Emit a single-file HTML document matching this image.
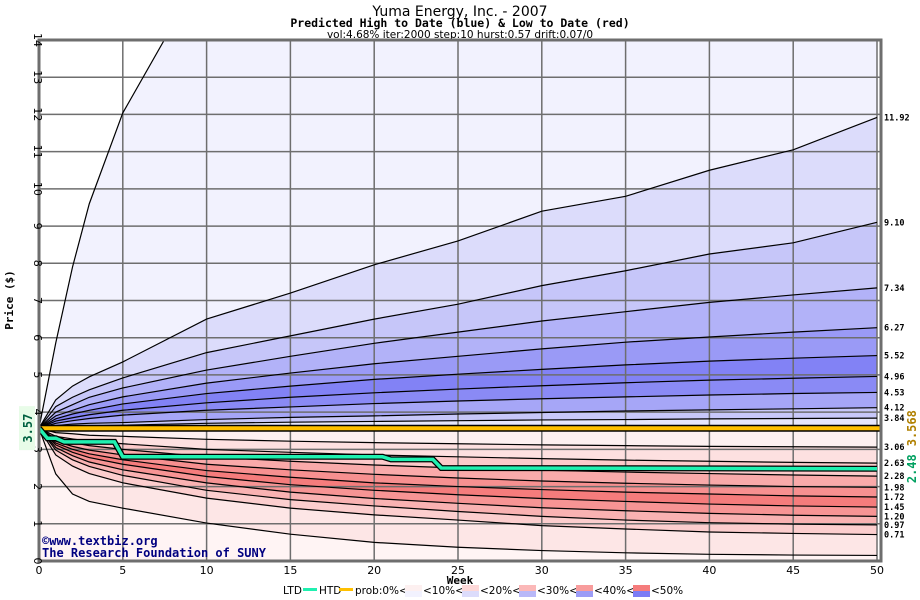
<!DOCTYPE html>
<html><head><meta charset="utf-8"><style>
html,body{margin:0;background:#fff;width:920px;height:600px;overflow:hidden}
svg{display:block;font-family:"DejaVu Sans Mono","Liberation Mono",monospace}
</style></head><body>
<svg id="chart" width="920" height="600" viewBox="0 0 920 600" xmlns="http://www.w3.org/2000/svg">
<text x="460" y="16" text-anchor="middle" font-size="14" font-family="DejaVu Sans, sans-serif">Yuma Energy, Inc. - 2007</text>
<text x="460" y="27" text-anchor="middle" font-size="11.5" font-weight="bold">Predicted High to Date (blue) &amp;  Low to Date (red)</text>
<text x="460" y="38" text-anchor="middle" font-size="10.5" font-family="DejaVu Sans, sans-serif">vol:4.68% iter:2000 step:10 hurst:0.57 drift:0.07/0</text>
<g id="plot"></g>
<text transform="translate(13,300) rotate(-90)" text-anchor="middle" font-size="11" font-weight="bold">Price ($)</text>
<text x="460" y="584" text-anchor="middle" font-size="11" font-weight="bold">Week</text>
<text x="42" y="545" font-size="12" font-weight="bold" fill="#000080">©www.textbiz.org</text>
<text x="42" y="557" font-size="12" font-weight="bold" fill="#000080">The Research Foundation of SUNY</text>
<g id="legend" font-size="10.5" font-family="DejaVu Sans, sans-serif"></g>
</svg>
<script>
const weeks=[0,1,2,3,5,10,15,20,25,30,35,40,45,50];
const startPrice=3.57;
const qTop=[3.57,5.86,7.9,9.6,12.04,16,18,20,22,24,26,28,30,32];
const q1192=[3.57,4.33,4.7,4.95,5.35,6.5,7.2,7.96,8.6,9.4,9.8,10.5,11.05,11.92];
const q910=[3.57,4.15,4.4,4.6,4.92,5.6,6.05,6.5,6.9,7.4,7.8,8.25,8.55,9.10];
const q734=[3.57,4.0,4.2,4.4,4.65,5.13,5.5,5.85,6.15,6.45,6.7,6.95,7.15,7.34];
const q627=[3.57,3.9,4.05,4.2,4.41,4.78,5.05,5.3,5.5,5.7,5.88,6.02,6.15,6.27];
const q552=[3.57,3.82,3.95,4.05,4.22,4.5,4.7,4.88,5.02,5.15,5.27,5.37,5.45,5.52];
const q496=[3.57,3.76,3.85,3.93,4.05,4.25,4.4,4.52,4.62,4.71,4.79,4.86,4.91,4.96];
const q453=[3.57,3.7,3.77,3.83,3.92,4.05,4.14,4.23,4.3,4.36,4.41,4.46,4.5,4.53];
const q412=[3.57,3.64,3.68,3.7,3.72,3.8,3.86,3.9,3.95,3.99,4.03,4.06,4.09,4.12];
const q384=[3.57,3.6,3.62,3.63,3.65,3.7,3.73,3.75,3.77,3.79,3.8,3.82,3.83,3.84];
const q306=[3.57,3.45,3.42,3.38,3.35,3.27,3.22,3.18,3.15,3.12,3.1,3.08,3.07,3.06];
const q263=[3.57,3.35,3.28,3.22,3.15,3.0,2.92,2.85,2.8,2.75,2.71,2.68,2.65,2.63];
const q228=[3.57,3.28,3.18,3.1,3.0,2.8,2.68,2.58,2.5,2.44,2.39,2.35,2.31,2.28];
const q198=[3.57,3.22,3.08,2.98,2.85,2.6,2.45,2.33,2.23,2.15,2.09,2.04,2.0,1.98];
const q172=[3.57,3.17,3.0,2.88,2.72,2.43,2.25,2.1,2.0,1.92,1.85,1.8,1.75,1.72];
const q145=[3.57,3.12,2.92,2.78,2.6,2.27,2.05,1.9,1.78,1.68,1.6,1.53,1.48,1.45];
const q120=[3.57,3.05,2.83,2.66,2.45,2.1,1.85,1.68,1.55,1.43,1.35,1.28,1.23,1.20];
const q097=[3.57,2.98,2.72,2.54,2.3,1.9,1.65,1.48,1.33,1.2,1.1,1.03,0.99,0.97];
const q071=[3.57,2.85,2.55,2.35,2.1,1.69,1.42,1.24,1.1,0.95,0.86,0.78,0.74,0.71];
const qBot=[3.57,2.34,1.8,1.6,1.42,1.02,0.72,0.5,0.37,0.28,0.22,0.18,0.16,0.15];
const upperCurves=[qTop,q1192,q910,q734,q627,q552,q496,q453,q412,q384];
const lowerCurves=[q306,q263,q228,q198,q172,q145,q120,q097,q071,qBot];
const endLabels=["11.92","9.10","7.34","6.27","5.52","4.96","4.53","4.12","3.84","3.06","2.63","2.28","1.98","1.72","1.45","1.20","0.97","0.71"];
const endValues=[11.92,9.10,7.34,6.27,5.52,4.96,4.53,4.12,3.84,3.06,2.63,2.28,1.98,1.72,1.45,1.20,0.97,0.71];
const ltdWeeks=[0,0.5,1,1.5,4.5,5,20.5,21,23.5,24,50];
const ltdValues=[3.57,3.3,3.3,3.2,3.2,2.8,2.8,2.73,2.73,2.5,2.48];
const htdValue=3.568;
const xTicks=[0,5,10,15,20,25,30,35,40,45,50];
const yTicks=[0,1,2,3,4,5,6,7,8,9,10,11,12,13,14];

const L=39,R=881,T=40,B=561;
const xs=w=>L+w*(877-L)/50;
const ys=v=>B-Math.max(0,Math.min(14,v))*(B-T)/14;
const NS="http://www.w3.org/2000/svg";
const plot=document.getElementById('plot');
function mk(tag,attrs,parent){const e=document.createElementNS(NS,tag);for(const k in attrs)e.setAttribute(k,attrs[k]);(parent||plot).appendChild(e);return e;}
const defs=mk('defs',{});
const cp=mk('clipPath',{id:'clip'},defs);mk('rect',{x:L,y:T,width:R-L,height:B-T},cp);
const g=mk('g',{'clip-path':'url(#clip)'});
const bg=mk('rect',{x:L,y:T,width:R-L,height:B-T,fill:'#ffffff'},g);


// for the top curve, extend beyond 14 by computing exit point
function topPts(c){
  const out=[];
  for(let i=0;i<weeks.length;i++){
    if(c[i]<=14){out.push([xs(weeks[i]),ys(c[i])]);}
    else{
      const w0=weeks[i-1],v0=c[i-1],w1=weeks[i],v1=c[i];
      if(v0<=14){const wx=w0+(14-v0)/(v1-v0)*(w1-w0);out.push([xs(wx),ys(14)]);}
      out.push([xs(w1),ys(14)]);
    }
  }
  return out;
}
function curvePts(c){return c===qTop?topPts(c):weeks.map((w,i)=>[xs(w),ys(c[i])]);}
function band(a,b,fill,name){
  const pa=curvePts(a), pb=curvePts(b).reverse();
  const e=mk('polygon',{points:pa.concat(pb).map(p=>p.join(',')).join(' '),fill:fill},g);
  
  
}
const startLine=weeks.map(()=>startPrice);
const ceil=weeks.map(()=>14), flo=weeks.map(()=>0);
const upFills=['#f2f2fe','#dcdcfb','#c6c6f9','#b2b2f8','#9a9af6','#8282f5','#8a8af5','#a6a6f7','#c8c8f9','#e6e6fc'];
const upBounds=[ceil].concat(upperCurves).concat([startLine]);
for(let i=0;i<upBounds.length-1;i++) band(upBounds[i],upBounds[i+1],i==0?'#ffffff':upFills[i-1],'upper-band-'+i);
const loFills=['#fdf0f0','#fde0e0','#fccaca','#f9aaaa','#f79090','#f57c7c','#f79494','#f9b2b2','#fccece','#fde6e6','#fff4f4'];
const loBounds=[startLine].concat(lowerCurves).concat([flo]);
for(let i=0;i<loBounds.length-1;i++) band(loBounds[i],loBounds[i+1],loFills[i],'lower-band-'+i);
xTicks.forEach(t=>{const l=mk('line',{x1:xs(t),x2:xs(t),y1:T,y2:B,stroke:'#6e6e6e','stroke-width':1.5},g);});
yTicks.forEach(t=>{const l=mk('line',{x1:L,x2:R,y1:ys(t),y2:ys(t),stroke:'#6e6e6e','stroke-width':1.5},g);});
upperCurves.concat(lowerCurves).forEach((c,i)=>{const e=mk('polyline',{points:curvePts(c).map(p=>p.join(',')).join(' '),fill:'none',stroke:'#000','stroke-width':1.2},g);});
const htd=mk('line',{x1:L,x2:R,y1:ys(htdValue),y2:ys(htdValue),stroke:'#000','stroke-width':7},g);

const htd2=mk('line',{x1:L,x2:R,y1:ys(htdValue),y2:ys(htdValue),stroke:'#ffc000','stroke-width':4},g);

const lp=ltdWeeks.map((w,i)=>xs(w)+','+ys(ltdValues[i])).join(' ');
const lo=mk('polyline',{points:lp,fill:'none',stroke:'#000','stroke-width':6},g);

const ll=mk('polyline',{points:lp,fill:'none',stroke:'#20f0b0','stroke-width':3.5},g);

const fr=mk('rect',{x:L,y:T,width:R-L,height:B-T,fill:'none',stroke:'#6e6e6e','stroke-width':3});

xTicks.forEach(t=>{const e=mk('text',{x:xs(t),y:B+13,'text-anchor':'middle','font-size':11,'font-family':'DejaVu Sans, sans-serif'});e.textContent=t;});
yTicks.forEach(t=>{const e=mk('text',{transform:`translate(${L-5},${ys(t)}) rotate(90)`,'text-anchor':'middle','font-size':11,'font-family':'DejaVu Sans, sans-serif'});e.textContent=t;});
endLabels.forEach((s,i)=>{const e=mk('text',{x:884,y:ys(endValues[i])+3,'font-size':8.5,'font-weight':'bold'});e.textContent=s;});
const sb=mk('rect',{x:19,y:ys(startPrice)-22,width:16,height:44,fill:'#e8fce8'});

const st=mk('text',{transform:`translate(32,${ys(startPrice)}) rotate(-90)`,'text-anchor':'middle','font-size':12,'font-weight':'bold',fill:'#006040'});st.textContent='3.57';

const hl=mk('text',{transform:`translate(916,${ys(htdValue)}) rotate(-90)`,'text-anchor':'middle','font-size':12,'font-weight':'bold',fill:'#b08000'});hl.textContent='3.568';

const ltl=mk('text',{transform:`translate(916,${ys(2.48)}) rotate(-90)`,'text-anchor':'middle','font-size':12,'font-weight':'bold',fill:'#00a060'});ltl.textContent='2.48';

const lg=document.getElementById('legend');
function lt(x,s){const e=mk('text',{x:x,y:594},lg);e.textContent=s;}
lt(283,'LTD');mk('rect',{x:303,y:588,width:14,height:3,fill:'#20f0b0'},lg);
lt(319,'HTD');mk('rect',{x:339,y:588,width:14,height:3,fill:'#ffc000'},lg);
lt(355,'prob:0%<');
const sw=[['#fdf0f0','#f2f2fe'],['#fdd8d8','#dcdcfb'],['#fbb8b8','#b8b8f8'],['#f89c9c','#9c9cf6'],['#f57c7c','#7c7cf5']];
const labs=['<10%<','<20%<','<30%<','<40%<','<50%'];
let x=405;
sw.forEach((c,i)=>{const a=mk('rect',{x:x,y:585,width:17,height:6,fill:c[0]},lg);
const b=mk('rect',{x:x,y:591,width:17,height:6,fill:c[1]},lg);
lt(x+18,labs[i]);x+=57;});
</script>
</body></html>
